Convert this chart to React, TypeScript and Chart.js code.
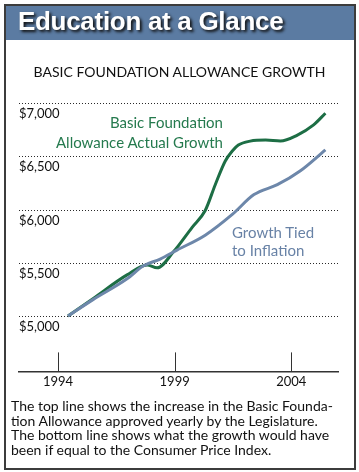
import React, { useEffect, useRef } from "react";
import { Chart, registerables } from "chart.js";

Chart.register(...registerables);

// Actual basic foundation allowance (year, $)
const ACTUAL_YEARS = [1994.43, 1995.5, 1996.96, 1997.82, 1998.25, 1998.94, 1999.75, 2000.31, 2000.74, 2001.17, 2001.47, 2001.73, 2002.24, 2002.9, 2003.53, 2004.26, 2004.94, 2005.46];
const ACTUAL_VALUES = [5000, 5163, 5386, 5479, 5452, 5600, 5833, 5991, 6233, 6456, 6549, 6605, 6642, 6652, 6643, 6699, 6792, 6904];

// Growth tied to inflation (year, $)
const INFLATION_YEARS = [1994.43, 1995.5, 1996.96, 1997.65, 1998.38, 1999.1, 2000.31, 2001.47, 2002.4, 2003.4, 2004.39, 2005.46];
const INFLATION_VALUES = [5000, 5154, 5349, 5470, 5535, 5619, 5759, 5954, 6140, 6233, 6364, 6560];

const X_TICKS = [1994, 1999, 2004];
const Y_TICKS = [5000, 5500, 6000, 6500, 7000];

const GREEN = "#1d6e45";
const BLUE = "#6d87aa";

const FONT = "Lato, 'Open Sans', sans-serif";

export default function App() {
  const canvasRef = useRef<HTMLCanvasElement | null>(null);

  useEffect(() => {
    const canvas = canvasRef.current;
    if (!canvas) return;
    const tickPlugin = {
      id: "upTicks",
      beforeDatasetsDraw(chart: any) {
        const ys = chart.scales.y;
        const { left, right } = chart.chartArea;
        const ctx = chart.ctx;
        ctx.save();
        ctx.fillStyle = "#2a2a2a";
        for (const v of Y_TICKS) {
          const py = Math.round(ys.getPixelForValue(v));
          for (let x = Math.round(left); x < right; x += 3) {
            ctx.fillRect(x, py, 1, 1);
          }
        }
        ctx.restore();
      },
      afterDraw(chart: any) {
        const xs = chart.scales.x;
        const bottom = chart.chartArea.bottom;
        const ctx = chart.ctx;
        ctx.save();
        ctx.strokeStyle = "#333";
        ctx.lineWidth = 1;
        for (const v of X_TICKS) {
          const px = Math.round(xs.getPixelForValue(v)) + 0.5;
          ctx.beginPath();
          ctx.moveTo(px, bottom);
          ctx.lineTo(px, bottom - 19);
          ctx.stroke();
        }
        ctx.restore();
      },
    };
    const chart = new Chart(canvas, {
      type: "line",
      data: {
        datasets: [
          {
            label: "Growth Tied to Inflation",
            data: INFLATION_YEARS.map((x, i) => ({ x, y: INFLATION_VALUES[i] })),
            borderColor: BLUE,
            borderWidth: 3,
            pointRadius: 0,
            cubicInterpolationMode: "monotone",
            fill: false,
          },
          {
            label: "Basic Foundation Allowance Actual Growth",
            data: ACTUAL_YEARS.map((x, i) => ({ x, y: ACTUAL_VALUES[i] })),
            borderColor: GREEN,
            borderWidth: 3,
            pointRadius: 0,
            cubicInterpolationMode: "monotone",
            fill: false,
          },
        ],
      },
      options: {
        responsive: false,
        animation: false,
        events: [],
        layout: { padding: { left: 19, right: 21, top: 103, bottom: 79 } },
        plugins: { legend: { display: false }, tooltip: { enabled: false }, title: { display: false } },
        scales: {
          x: {
            type: "linear",
            min: 1992.33,
            max: 2006.0,
            afterBuildTicks: (scale: any) => {
              scale.ticks = X_TICKS.map((value) => ({ value }));
            },
            grid: { display: false, drawTicks: false },
            border: { display: true, color: "#333", width: 1.5 },
            ticks: {
              padding: 3,
              color: "#111",
              font: { family: FONT, size: 13 },
              callback: (v: any) => String(v),
              maxRotation: 0,
            },
          },
          y: {
            type: "linear",
            min: 4480,
            max: 7000,
            afterBuildTicks: (scale: any) => {
              scale.ticks = Y_TICKS.map((value) => ({ value }));
            },
            grid: { display: false, drawTicks: false },
            border: { display: false },
            ticks: {
              mirror: true,
              padding: 0,
              labelOffset: 11,
              color: "#111",
              font: { family: FONT, size: 13 },
              callback: (v: any) => "$" + Number(v).toLocaleString("en-US"),
            },
          },
        },
      },
      plugins: [tickPlugin],
    } as any);
    return () => chart.destroy();
  }, []);

  return (
    <div style={{ position: "fixed", left: 0, top: 0, width: 359, height: 472, background: "#fff", overflow: "hidden" }}>
      <canvas ref={canvasRef} width={359} height={472} style={{ position: "absolute", left: 0, top: 0, width: 359, height: 472 }} />
      <div
        style={{
          position: "absolute",
          left: 4,
          top: 4,
          width: 352,
          height: 466,
          border: "2px solid #3c3c3c",
          boxSizing: "border-box",
          pointerEvents: "none",
        }}
      />
      <div
        style={{
          position: "absolute",
          left: 6,
          top: 6,
          width: 348,
          height: 34,
          background: "#5b7ba2",
        }}
      />
      <div
        style={{
          position: "absolute",
          left: 18,
          top: 6,
          fontFamily: "'Liberation Sans', Arial, sans-serif",
          fontWeight: 700,
          fontSize: 26,
          lineHeight: "31px",
          color: "#fff",
          whiteSpace: "nowrap",
          letterSpacing: -0.3,
          textShadow: "2px 2px 3px #111",
        }}
      >
        Education at a Glance
      </div>
      <div
        style={{
          position: "absolute",
          left: 0,
          width: 359,
          top: 62,
          textAlign: "center",
          fontFamily: FONT,
          fontSize: 14,
          lineHeight: "20px",
          color: "#111",
          whiteSpace: "nowrap",
        }}
      >
        BASIC FOUNDATION ALLOWANCE GROWTH
      </div>
      <div
        style={{
          position: "absolute",
          right: 359 - 223,
          top: 112,
          textAlign: "right",
          fontFamily: FONT,
          fontSize: 15,
          lineHeight: "20px",
          color: "#257a4e",
          whiteSpace: "nowrap",
        }}
      >
        Basic Foundation
        <br />
        Allowance Actual Growth
      </div>
      <div
        style={{
          position: "absolute",
          left: 232,
          top: 223,
          textAlign: "left",
          fontFamily: FONT,
          fontSize: 15,
          lineHeight: "18px",
          color: "#6882a6",
          whiteSpace: "nowrap",
        }}
      >
        Growth Tied
        <br />
        to Inflation
      </div>
      <div
        style={{
          position: "absolute",
          left: 11,
          top: 399,
          fontFamily: FONT,
          fontSize: 14,
          lineHeight: "14.7px",
          color: "#111",
          whiteSpace: "nowrap",
        }}
      >
        The top line shows the increase in the Basic Founda-
        <br />
        tion Allowance approved yearly by the Legislature.
        <br />
        The bottom line shows what the growth would have
        <br />
        been if equal to the Consumer Price Index.
      </div>
    </div>
  );
}
